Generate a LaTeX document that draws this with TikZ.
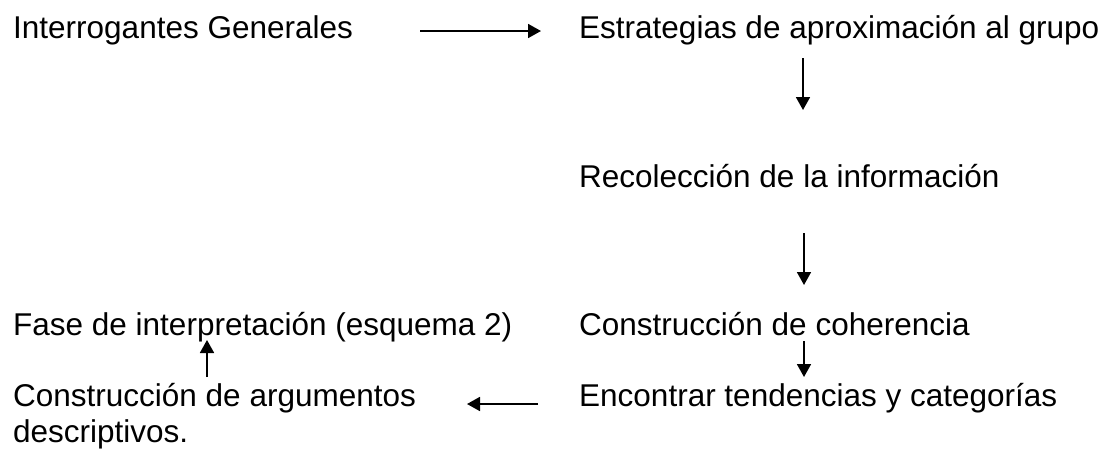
\documentclass[tikz,border=0pt]{standalone}
\usepackage{fontspec}
\setmainfont{Liberation Sans}
\usetikzlibrary{arrows.meta}
\begin{document}
\begin{tikzpicture}[
    x=1pt, y=-1pt,
    paso/.style={anchor=base west, inner sep=0pt, font=\fontsize{31.5}{36}\selectfont},
    flecha/.style={draw, line width=1.8pt, -{Triangle[length=13pt, width=14pt]}}
]
    \useasboundingbox (0,0) rectangle (1109,448);

    \node [paso] (interrog) at (13,38) {Interrogantes Generales};
    \node [paso] (estrat) at (579,38) {Estrategias de aproximación al grupo};
    \node [paso] (recol) at (579,187) {Recolección de la información};
    \node [paso] (coher) at (579,335) {Construcción de coherencia};
    \node [paso] (fase) at (13,335) {Fase de interpretación (esquema 2)};
    \node [paso] (tend) at (579,406) {Encontrar tendencias y categorías};
    \node [paso] (argum) at (13,406) {Construcción de argumentos};
    \node [paso] (descr) at (13,442) {descriptivos.};

    \coordinate (a1) at (420,31);  \coordinate (b1) at (541,31);
    \coordinate (a2) at (803,58);  \coordinate (b2) at (803,110);
    \coordinate (a3) at (804,233); \coordinate (b3) at (804,285);
    \coordinate (a4) at (804,341); \coordinate (b4) at (804,377);
    \coordinate (a5) at (538,404); \coordinate (b5) at (467,404);
    \coordinate (a6) at (207,377); \coordinate (b6) at (207,340);

    \draw [flecha] (a1) -- (b1);
    \draw [flecha] (a2) -- (b2);
    \draw [flecha] (a3) -- (b3);
    \draw [flecha] (a4) -- (b4);
    \draw [flecha] (a5) -- (b5);
    \draw [flecha] (a6) -- (b6);
\end{tikzpicture}
\end{document}
